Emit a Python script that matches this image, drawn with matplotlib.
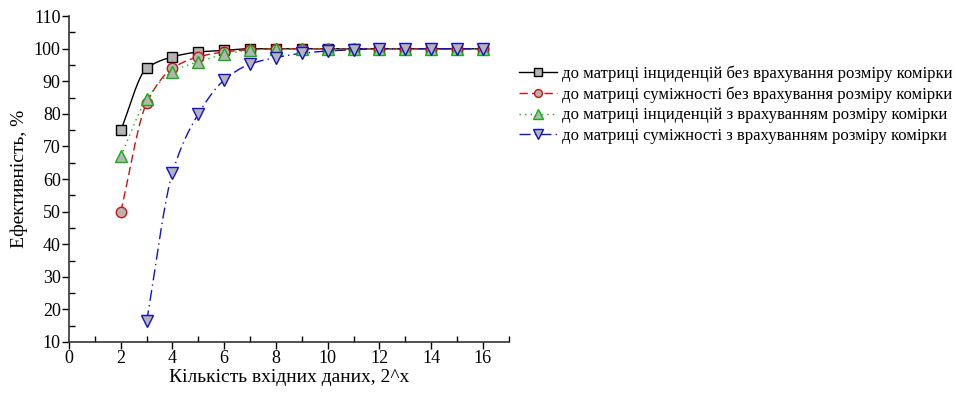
import numpy as np
import matplotlib
matplotlib.use("Agg")
import matplotlib.pyplot as plt
from matplotlib.ticker import MultipleLocator

plt.rcParams['font.family'] = ['Liberation Serif', 'DejaVu Serif']

x_sq = [2, 3, 4, 5, 6, 7, 8, 9, 10, 11, 12, 13, 14, 15, 16]
y_sq = [75, 94, 97.5, 99, 99.5, 100, 100, 100, 100, 100, 100, 100, 100, 100, 100]
x_ci = [2, 3, 4, 5, 6, 7, 8, 9, 10, 11, 12, 13, 14, 15, 16]
y_ci = [50, 83.3, 94, 97.5, 99, 99.7, 100, 100, 100, 100, 100, 100, 100, 100, 100]
x_tr = [2, 3, 4, 5, 6, 7, 8, 9, 10, 11, 12, 13, 14, 15, 16]
y_tr = [67, 84.5, 93, 96, 98.3, 99.6, 100, 100, 100, 100, 100, 100, 100, 100, 100]
x_dt = [3, 4, 5, 6, 7, 8, 9, 10, 11, 12, 13, 14, 15, 16]
y_dt = [16.3, 62, 80, 90.4, 95.3, 97.3, 98.6, 99.3, 99.7, 100, 100, 100, 100, 100]

labels = [
    "до матриці інциденцій без врахування розміру комірки",
    "до матриці суміжності без врахування розміру комірки",
    "до матриці інциденцій з врахуванням розміру комірки",
    "до матриці суміжності з врахуванням розміру комірки",
]


def smooth(x, y, n=20):
    # monotone cubic Hermite (PCHIP) path through the data points, for drawing only
    x = np.asarray(x, float); y = np.asarray(y, float)
    h = np.diff(x); d = np.diff(y) / h
    m = np.zeros_like(y)
    for k in range(1, len(x) - 1):
        if d[k - 1] * d[k] > 0:
            w1 = 2 * h[k] + h[k - 1]; w2 = h[k] + 2 * h[k - 1]
            m[k] = (w1 + w2) / (w1 / d[k - 1] + w2 / d[k])
    m[0] = d[0]; m[-1] = d[-1]
    xs, ys = [], []
    for k in range(len(x) - 1):
        t = np.linspace(0, 1, n, endpoint=False)
        h00 = 2*t**3 - 3*t**2 + 1; h10 = t**3 - 2*t**2 + t
        h01 = -2*t**3 + 3*t**2; h11 = t**3 - t**2
        xs.append(x[k] + t * h[k])
        ys.append(h00*y[k] + h10*h[k]*m[k] + h01*y[k+1] + h11*h[k]*m[k+1])
    xs.append([x[-1]]); ys.append([y[-1]])
    return np.concatenate(xs), np.concatenate(ys)


fig = plt.figure(figsize=(9.56, 3.94), dpi=100)
ax = fig.add_axes([0.0722, 0.132, 0.46, 0.827])

series = [
    (x_sq, y_sq, 'black', '-', 's', 'black', 7),
    (x_ci, y_ci, '#d01010', (0, (6, 3)), 'o', '#d01010', 7.5),
    (x_tr, y_tr, '#10b010', (0, (1, 3)), '^', '#10b010', 9),
    (x_dt, y_dt, '#1010d0', (0, (8, 3, 1, 3)), 'v', '#1010d0', 9),
]
for (xx, yy, lc, ls, mk, ec, ms), lab in zip(series, labels):
    sx, sy = smooth(xx, yy)
    ax.plot(sx, sy, color=lc, linestyle=ls, lw=1.0, zorder=2)
    ax.plot(xx, yy, linestyle='none', marker=mk, markersize=ms,
            markerfacecolor='#b4b4b4', markeredgecolor=ec, markeredgewidth=1.0, zorder=3)
    ax.plot([], [], color=lc, linestyle=ls, lw=1.0, marker=mk, markersize=ms * 0.75,
            markerfacecolor='#b4b4b4', markeredgecolor=ec, label=lab)

ax.set_xlim(0, 17)
ax.set_ylim(10, 110)
ax.xaxis.set_major_locator(MultipleLocator(2))
ax.xaxis.set_minor_locator(MultipleLocator(1))
ax.yaxis.set_major_locator(MultipleLocator(10))
ax.yaxis.set_minor_locator(MultipleLocator(5))
ax.spines['top'].set_visible(False)
ax.spines['right'].set_visible(False)
for s in ('left', 'bottom'):
    ax.spines[s].set_linewidth(1.2)
    ax.spines[s].set_color('#333333')
ax.tick_params(which='major', direction='out', length=5, width=1.0, labelsize=13, pad=1)
ax.tick_params(which='minor', direction='in', length=4, width=1.0)
ax.set_xlabel("Кількість вхідних даних, 2^x", fontsize=14, labelpad=1)
ax.set_ylabel("Ефективність, %", fontsize=14, labelpad=4)

leg = ax.legend(loc='upper left', bbox_to_anchor=(1.008, 0.868), frameon=False,
                fontsize=12, handlelength=2.3, handletextpad=0.3, labelspacing=0.26,
                borderaxespad=0)

fig.savefig("out.png", dpi=100)
